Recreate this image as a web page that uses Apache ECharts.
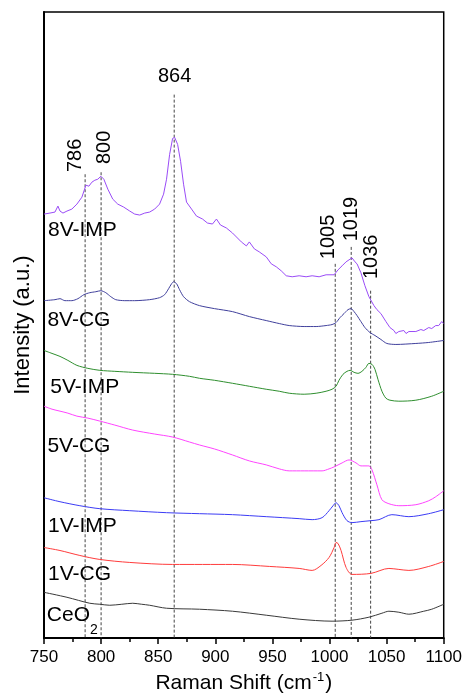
<!DOCTYPE html>
<html>
<head>
<meta charset="utf-8">
<script src="https://cdn.jsdelivr.net/npm/echarts@6/dist/echarts.min.js"></script>
<style>
  html, body { margin: 0; padding: 0; background: #fff; }
  #chart { width: 465px; height: 699px; }
</style>
</head>
<body>
<div id="chart"></div>
<script>
// Raman spectra (offset for clarity); x = Raman shift in cm-1, y = intensity in a.u.
const wn8VIMP = [750,755.2,759.6,762.2,764,766.6,770.1,774.4,778.8,783.2,786.7,789.3,791.9,794.5,797.1,799.8,802.4,805.9,810.2,814.6,819.8,825.1,829.4,833.8,838.2,842.5,846.9,851.2,854.7,857.3,860,862.6,864.4,867,869.6,872.2,874.8,879.2,883.5,888.8,893.1,897.5,901,904.5,909.7,915,918.5,922.8,927.2,929.8,934.2,938.5,944.6,949,953.4,957.7,962.1,967.3,973.4,979.5,984.8,990.9,997,1002.2,1004,1007.5,1011,1014.5,1017.1,1019.7,1022.3,1024.1,1027.5,1031,1034.5,1038.9,1041.5,1045,1049.4,1052.9,1056.4,1058.1,1060.7,1065.1,1067,1069.5,1075.6,1080,1082.5,1086.9,1089.5,1093,1095.6,1098.3,1100];
const in8VIMP = [426,427,428,434,429,427,429,431,436,443,455,454,458,460,461,464,461,451,441,436,433,429,426,425,427,428,431,436,446,461,486,502,503,496,479,456,438,431,424,421,417,416,421,415,412,407,403,398,394,398,391,388,383,376,373,369,364,363,364,363,364,363,365,365,365,370,374,378,380,382,378,376,367,354,343,334,330,326,318,312,309,306,308,309,306,308,308,310,309,312,311,314,314,318,316];

const wn8VCG = [750,759.6,764,768.3,774.4,779.7,784.9,790.1,795.4,799.8,804.1,808.5,812.8,820.7,829.4,842.5,851.2,855.6,859.1,861.7,863.5,866.1,868.7,872.2,877.4,886.2,899.3,915,929.8,944.6,956,964.7,977.8,988.3,997,1002.2,1005.7,1009.2,1012.7,1016.2,1018.8,1021.5,1024.1,1027.5,1031,1035.4,1039.8,1045,1050.2,1058.1,1075.6,1086.9,1100];
const in8VCG = [339,340,341,339,339,341,345,347,348,349,347,343,340,339,339,340,342,345,351,356,358,356,350,343,338,334,331,328,323,319,316,314,313,313,314,315,317,322,326,330,331,328,324,318,312,307,304,300,296,295,296,297,299];

const wn5VIMP = [750,757,764,770.9,778.8,788.4,798.9,812,827.7,846.9,862.6,877.4,886.2,899.3,915,929.8,944.6,956,964.7,977.8,988.3,997,1002.2,1005.7,1008.3,1011.8,1015.3,1018,1021.5,1024.9,1028.4,1031.9,1034.5,1037.2,1039.8,1042.4,1045.9,1049.4,1052.9,1060.7,1075.6,1089.5,1100];
const in5VIMP = [289,286,283,279,274,271,269,268,267,266,265,263,261,259,256,253,250,248,246,245,246,248,250,253,259,265,268,269,267,266,268,272,276,275,270,260,248,241,239,238,239,243,248];

const wn5VCG = [750,757,764,770.9,778.8,788.4,798.9,812,827.7,846.9,862.6,877.4,886.2,899.3,915,929.8,944.6,956,964.7,977.8,993.5,999.6,1004,1011,1017.1,1023.2,1027.5,1034.5,1037.2,1041.5,1045.9,1052,1060.7,1075.6,1086.9,1093,1100];
const in5VCG = [233,230,228,226,223,221,218,214,209,205,202,197,194,190,184,178,174,170,168,168,168,170,172,176,179,176,173,173,169,154,139,135,133,134,138,142,148];

const wn1VIMP = [750,764,781.4,798.9,825.1,857.3,886.2,915,944.6,973.4,984.8,993.5,999.6,1003.1,1005.7,1008.3,1011,1015.3,1019.7,1027.5,1036.3,1043.3,1054.6,1069.5,1086.9,1100];
const in1VIMP = [141,137,133,130,128,126,125,124,122,120,119,121,128,133,136,133,126,118,116,117,118,119,124,122,125,129];

const wn1VCG = [750,764,781.4,798.9,825.1,862.6,915,947.3,973.4,984.8,992.6,999.6,1004,1005.7,1007.5,1010.1,1014.5,1019.7,1036.3,1052,1060.7,1069.5,1086.9,1100];
const in1VCG = [91,88,83,79,76,74,74,72,70,68,73,81,91,96,95,88,71,64,65,70,69,68,72,77];

const wnCeO2 = [750,770.1,790.1,798.9,807.6,818.1,827.7,835.5,842.5,857.3,886.2,915,944.6,973.4,1002.2,1019.7,1034.5,1045.9,1052,1060.7,1069.5,1082.5,1089.5,1100];
const inCeO2 = [46,41,35,34,33,34,35,34,33,30,29,27,23,19,17,18,21,25,27,26,24,27,29,34];

// sample names with the label anchor (shift, intensity)
const sampleNames = ['8V-IMP', '8V-CG', '5V-IMP', '5V-CG', '1V-IMP', '1V-CG', 'CeO2'];
const sampleLabelWn = [753.5, 753, 755.5, 753, 753.5, 753.5, 752.5];
const sampleLabelIn = [410, 319, 252, 193, 112, 64, 23];

// assigned band positions, the height where each guide line starts, and its label anchor
const bandPos = [786, 800, 864, 1005, 1019, 1036];
const bandLineTop = [466, 468, 546, 376, 393, 349];
const bandLabelWn = [777.3, 803.2, 864.4, 999.2, 1019.3, 1037.1];
const bandLabelIn = [485, 493, 564, 403, 421, 383];
const bandLabelRotate = [90, 90, 0, 90, 90, 90];

// x-axis settings
const xMin = 750, xMax = 1100, xStep = 50;

const FONT = 'Liberation Sans, Arial, sans-serif';
const colors = ['#9a4cf7', '#40409c', '#2f8f2f', '#ff44ff', '#3c3cf5', '#ff3c3c', '#3a3a3a'];

const spectra = [
  [wn8VIMP, in8VIMP, false],
  [wn8VCG, in8VCG, 0.25],
  [wn5VIMP, in5VIMP, 0.3],
  [wn5VCG, in5VCG, 0.3],
  [wn1VIMP, in1VIMP, 0.3],
  [wn1VCG, in1VCG, 0.3],
  [wnCeO2, inCeO2, 0.3]
];

const zip = (a, b) => a.map((v, i) => [v, b[i]]);

const series = [];

// dashed guide lines at the band positions
bandPos.forEach((p, i) => {
  series.push({
    type: 'line',
    data: [[p, bandLineTop[i]], [p, 0]],
    showSymbol: false,
    silent: true,
    z: 1,
    lineStyle: { color: '#444', width: 1, type: [3, 2] }
  });
});

spectra.forEach((s, i) => {
  series.push({
    name: sampleNames[i],
    type: 'line',
    data: zip(s[0], s[1]),
    showSymbol: false,
    smooth: s[2],
    z: 3,
    lineStyle: { color: colors[i], width: 1 }
  });
});

// sample names
series.push({
  type: 'scatter',
  symbolSize: 0,
  silent: true,
  z: 5,
  itemStyle: { opacity: 1 },
  data: sampleNames.map((n, i) => [sampleLabelWn[i], sampleLabelIn[i], n]),
  label: {
    show: true,
    position: 'right',
    distance: 0,
    color: '#000',
    textBorderWidth: 0,
    fontFamily: FONT,
    fontSize: 21,
    formatter: p => p.value[2] === 'CeO2' ? '{a|CeO}{b|2}' : '{a|' + p.value[2] + '}',
    rich: {
      a: { fontSize: 21, fontFamily: FONT, color: '#000', lineHeight: 24 },
      b: { fontSize: 14, fontFamily: FONT, color: '#000', verticalAlign: 'bottom', lineHeight: 14, padding: [0, 0, -10, 0] }
    }
  }
});

// band labels
series.push({
  type: 'scatter',
  symbolSize: 0,
  silent: true,
  z: 5,
  itemStyle: { opacity: 1 },
  data: bandPos.map((p, i) => ({
    value: [bandLabelWn[i], bandLabelIn[i], String(p)],
    label: { rotate: bandLabelRotate[i] }
  })),
  label: {
    show: true,
    position: 'inside',
    color: '#000',
    textBorderWidth: 0,
    fontFamily: FONT,
    fontSize: 20,
    formatter: p => p.value[2]
  }
});

const chart = echarts.init(document.getElementById('chart'), null, { renderer: 'canvas' });
chart.setOption({
  animation: false,
  backgroundColor: '#fff',
  grid: {
    left: 44, right: 20, top: 12, bottom: 58,
    show: true, borderColor: '#000', borderWidth: 1.5, backgroundColor: 'transparent'
  },
  xAxis: {
    type: 'value',
    min: xMin, max: xMax, interval: xStep,
    name: '{a|Raman Shift (cm}{s|-1}{a|)}',
    nameLocation: 'middle',
    nameGap: 27,
    nameTextStyle: {
      rich: {
        a: { fontSize: 21, fontFamily: FONT, color: '#000', lineHeight: 24 },
        s: { fontSize: 13, fontFamily: FONT, color: '#000', verticalAlign: 'top', lineHeight: 13, padding: [0, 1, 10, 1] }
      }
    },
    axisLine: { show: true, lineStyle: { color: '#000', width: 2 } },
    axisTick: { show: true, inside: false, length: 6, lineStyle: { color: '#000', width: 1.5 } },
    minorTick: { show: true, splitNumber: 2, length: 4, lineStyle: { color: '#000', width: 1.5 } },
    splitLine: { show: false },
    axisLabel: { color: '#000', fontSize: 17, fontFamily: FONT, margin: 11, formatter: v => String(v) }
  },
  yAxis: {
    type: 'value',
    min: 0, max: 629,
    name: 'Intensity (a.u.)',
    nameLocation: 'middle',
    nameGap: 10,
    nameTextStyle: { fontSize: 22, fontFamily: FONT, color: '#000' },
    axisLine: { show: true, lineStyle: { color: '#000', width: 2 } },
    axisTick: { show: false },
    axisLabel: { show: false },
    splitLine: { show: false }
  },
  series: series
});
</script>
</body>
</html>
